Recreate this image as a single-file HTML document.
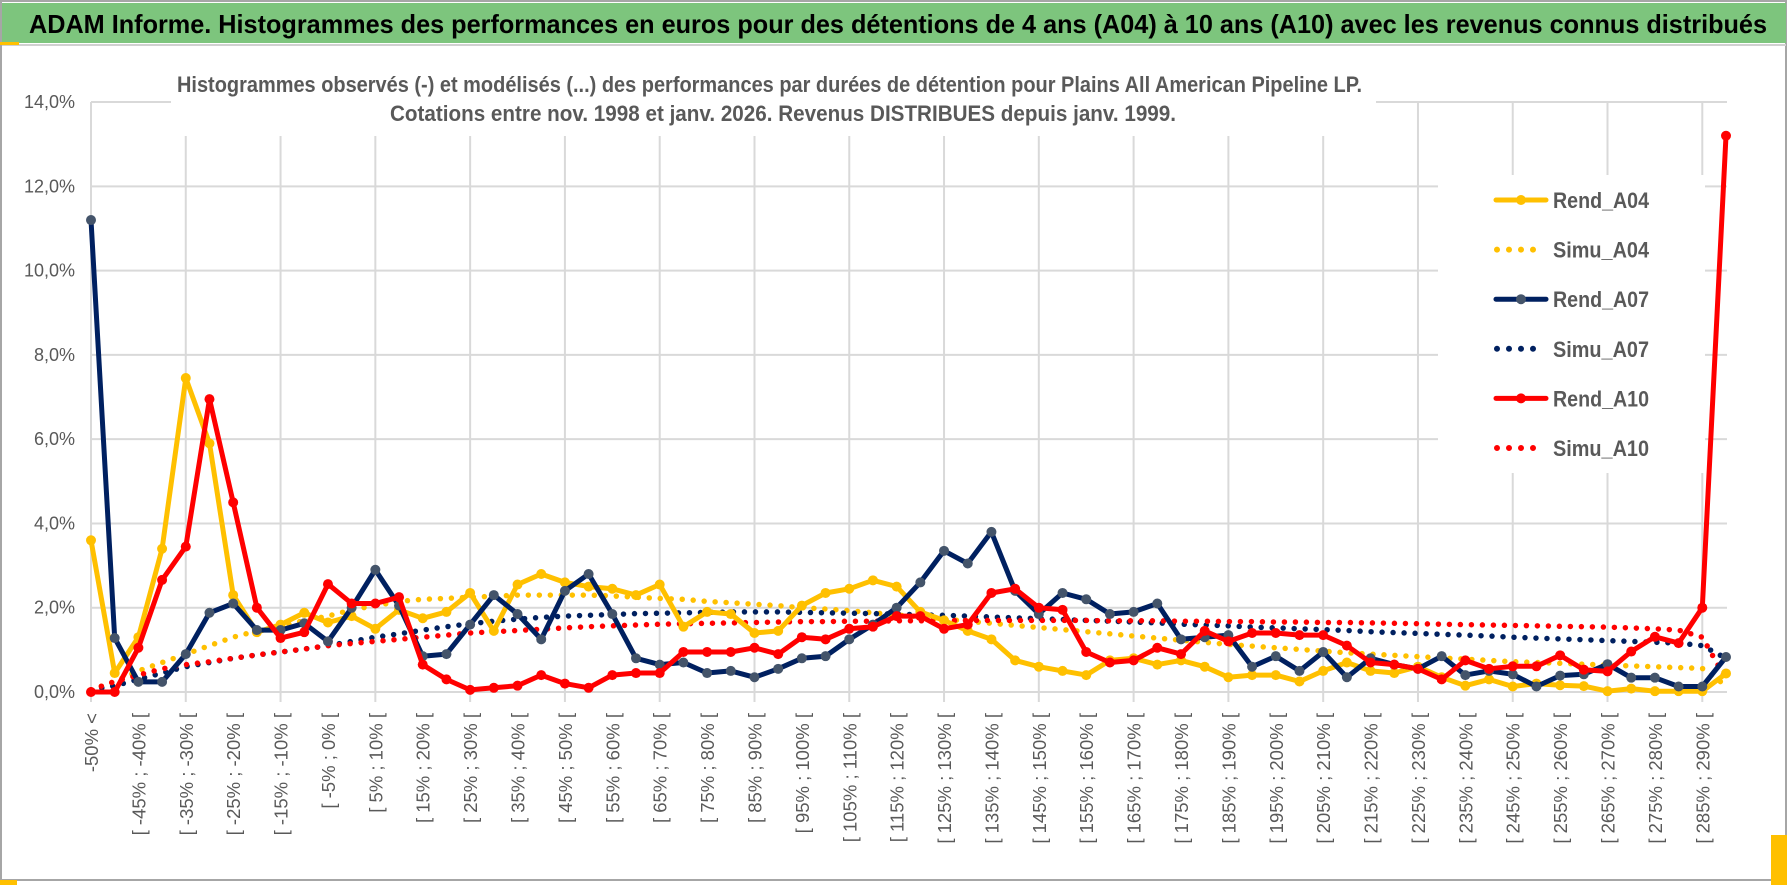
<!DOCTYPE html>
<html><head><meta charset="utf-8"><style>
html,body{margin:0;padding:0;background:#fff;width:1790px;height:888px;overflow:hidden}
svg{display:block}
</style></head><body>
<svg id="chart" width="1790" height="888" xmlns="http://www.w3.org/2000/svg" font-family="'Liberation Sans', sans-serif">
<rect x="0" y="0" width="1790" height="888" fill="#fff"/>
<rect x="1" y="1" width="1785" height="879" fill="none" stroke="#a6a6a6" stroke-width="2"/>
<rect x="2" y="3" width="1784" height="40" fill="#7dc57d"/>
<line x1="2" y1="45" x2="1786" y2="45" stroke="#d0d0d0" stroke-width="2"/>
<rect x="0" y="42" width="19" height="3" fill="#ffc000"/>
<rect x="1771" y="835" width="16" height="50" fill="#ffc000"/>
<rect x="0" y="880" width="17" height="5" fill="#ffc000"/>
<text x="29" y="33" font-size="26" font-weight="bold" fill="#000" textLength="1738" lengthAdjust="spacingAndGlyphs">ADAM Informe. Histogrammes des performances en euros pour des détentions de 4 ans (A04) à 10 ans (A10) avec les revenus connus distribués</text>
<g id="grid"></g>
<g id="axes"></g>
<rect x="171" y="60" width="1205" height="76" fill="#fff"/>
<text x="177" y="92" font-size="22" font-weight="bold" fill="#595959" textLength="1185" lengthAdjust="spacingAndGlyphs">Histogrammes observés (-) et modélisés (...) des performances par durées de détention pour Plains All American Pipeline LP.</text>
<text x="390" y="121" font-size="22" font-weight="bold" fill="#595959" textLength="786" lengthAdjust="spacingAndGlyphs">Cotations entre nov. 1998 et janv. 2026. Revenus DISTRIBUES depuis janv. 1999.</text>
<rect x="1438" y="175" width="267" height="298" fill="#fff"/>
<g id="series"></g>
<g id="legend"></g>
</svg>
<script>
const categoryCount = 70;
const yTicks = [0, 2, 4, 6, 8, 10, 12, 14];
const yTickLabels = ["0,0%", "2,0%", "4,0%", "6,0%", "8,0%", "10,0%", "12,0%", "14,0%"];
const rendA04 = [3.6,0.45,1.3,3.4,7.45,5.9,2.3,1.42,1.6,1.88,1.65,1.8,1.5,1.95,1.75,1.9,2.35,1.45,2.55,2.8,2.6,2.5,2.45,2.3,2.55,1.55,1.9,1.85,1.4,1.45,2.05,2.35,2.45,2.65,2.5,1.9,1.7,1.45,1.25,0.75,0.6,0.5,0.4,0.75,0.8,0.65,0.75,0.6,0.35,0.4,0.4,0.25,0.5,0.7,0.5,0.45,0.6,0.35,0.15,0.3,0.13,0.2,0.16,0.14,0.02,0.08,0.02,0.02,0.02,0.44];
const simuA04 = [0.05,0.25,0.5,0.7,0.9,1.1,1.3,1.45,1.55,1.7,1.8,1.95,2.05,2.15,2.2,2.22,2.25,2.27,2.3,2.3,2.3,2.3,2.28,2.25,2.22,2.2,2.15,2.12,2.08,2.05,2.0,1.97,1.93,1.88,1.83,1.78,1.73,1.68,1.63,1.58,1.53,1.48,1.43,1.38,1.33,1.28,1.23,1.18,1.13,1.09,1.05,1.01,0.97,0.93,0.9,0.87,0.84,0.81,0.78,0.75,0.72,0.7,0.68,0.66,0.64,0.62,0.6,0.58,0.56,0.15];
const rendA07 = [11.2,1.28,0.24,0.24,0.9,1.88,2.1,1.47,1.47,1.63,1.2,2.0,2.9,2.05,0.85,0.9,1.6,2.3,1.85,1.25,2.4,2.8,1.85,0.8,0.65,0.7,0.45,0.5,0.35,0.55,0.8,0.85,1.25,1.6,2.0,2.6,3.35,3.05,3.8,2.4,1.85,2.35,2.2,1.85,1.9,2.1,1.25,1.3,1.35,0.6,0.85,0.5,0.95,0.35,0.8,0.65,0.55,0.85,0.4,0.5,0.42,0.13,0.39,0.42,0.66,0.34,0.34,0.13,0.13,0.83];
const simuA07 = [0.05,0.15,0.3,0.45,0.6,0.7,0.8,0.88,0.95,1.02,1.1,1.2,1.3,1.38,1.47,1.55,1.62,1.68,1.73,1.77,1.8,1.82,1.84,1.86,1.87,1.88,1.89,1.9,1.9,1.9,1.89,1.88,1.87,1.86,1.85,1.83,1.82,1.8,1.78,1.76,1.74,1.72,1.7,1.68,1.66,1.64,1.61,1.59,1.57,1.54,1.52,1.5,1.48,1.46,1.43,1.41,1.39,1.37,1.35,1.33,1.3,1.28,1.26,1.24,1.22,1.2,1.18,1.16,1.1,0.8];
const rendA10 = [0,0,1.05,2.66,3.45,6.95,4.5,2.0,1.28,1.42,2.56,2.1,2.1,2.25,0.65,0.3,0.05,0.1,0.15,0.4,0.2,0.1,0.4,0.45,0.45,0.95,0.95,0.95,1.05,0.9,1.3,1.25,1.5,1.55,1.8,1.8,1.5,1.6,2.35,2.45,2.0,1.95,0.95,0.7,0.75,1.05,0.9,1.45,1.2,1.4,1.4,1.35,1.35,1.1,0.7,0.65,0.55,0.3,0.75,0.55,0.61,0.61,0.87,0.53,0.49,0.96,1.31,1.16,2.0,13.2];
const simuA10 = [0.05,0.25,0.4,0.55,0.65,0.72,0.8,0.88,0.95,1.02,1.1,1.15,1.2,1.25,1.3,1.35,1.4,1.43,1.46,1.49,1.52,1.55,1.57,1.59,1.61,1.62,1.63,1.64,1.65,1.66,1.67,1.67,1.68,1.68,1.69,1.69,1.69,1.7,1.7,1.7,1.7,1.7,1.7,1.69,1.69,1.69,1.68,1.68,1.67,1.67,1.66,1.66,1.65,1.65,1.64,1.63,1.62,1.61,1.6,1.59,1.58,1.57,1.56,1.55,1.54,1.52,1.5,1.47,1.3,0.3];
const seriesNames = ["Rend_A04","Simu_A04","Rend_A07","Simu_A07","Rend_A10","Simu_A10"];

const NS = "http://www.w3.org/2000/svg";
const X0 = 91, X1 = 1726, Y0 = 692, PER = 42.14;
function xPos(i){ return X0 + i*(X1-X0)/(categoryCount-1); }
function yPos(v){ return Y0 - v*PER; }
function mk(tag, attrs, parent){ const e=document.createElementNS(NS,tag); for(const k in attrs) e.setAttribute(k, attrs[k]); parent.appendChild(e); return e; }
function catLabel(i){ if(i===0) return "-50% <"; const a=-55+5*i; return "[ "+a+"% ; "+(a+5)+"% ["; }

const grid = document.getElementById("grid");
const axes = document.getElementById("axes");
yTicks.forEach((t,k)=>{
  const l = mk("line",{x1:X0,x2:1727,y1:yPos(t),y2:yPos(t),stroke:"#d9d9d9","stroke-width":2},grid);
  
  
  const tx = mk("text",{x:75,y:yPos(t)+6,"font-size":18,fill:"#595959","text-anchor":"end"},axes);
  tx.textContent = yTickLabels[k];
  
  
});
for(let i=0;i<categoryCount;i+=4){
  const l = mk("line",{x1:xPos(i),x2:xPos(i),y1:yPos(14),y2:Y0+10,stroke:"#d9d9d9","stroke-width":2},grid);
  
  
}
for(let i=0;i<categoryCount-1;i+=2){
  const x = xPos(i)+7;
  const tx = mk("text",{x:x,y:713,"font-size":18.5,fill:"#595959","text-anchor":"end",transform:"rotate(-90 "+x+" 713)"},axes);
  tx.textContent = catLabel(i);
  
  
}

const series = document.getElementById("series");
function drawSolid(data, color, marker, name){
  const g = mk("g",{},series);
  
  
  const pts = data.map((v,i)=>xPos(i).toFixed(1)+","+yPos(v).toFixed(1)).join(" ");
  mk("polyline",{points:pts,fill:"none",stroke:color,"stroke-width":5,"stroke-linejoin":"round"},g);
  data.forEach((v,i)=>{
    const c = mk("circle",{cx:xPos(i),cy:yPos(v),r:5,fill:marker},g);
    
    
  });
}
function drawDotted(data, color, name){
  const p = mk("polyline",{points:data.map((v,i)=>xPos(i).toFixed(1)+","+yPos(v).toFixed(1)).join(" "),fill:"none",stroke:color,"stroke-width":5.5,"stroke-linecap":"round","stroke-dasharray":"0 11"},series);
  
  
}
drawDotted(simuA04,"#ffc000","simu-a04-line");
drawDotted(simuA07,"#002060","simu-a07-line");
drawDotted(simuA10,"#ff0000","simu-a10-line");
drawSolid(rendA04,"#ffc000","#ffc000","rend-a04-line");
drawSolid(rendA07,"#002060","#44546a","rend-a07-line");
drawSolid(rendA10,"#ff0000","#ff0000","rend-a10-line");

const legend = document.getElementById("legend");
const legColors = ["#ffc000","#ffc000","#002060","#002060","#ff0000","#ff0000"];
const legMarkers = ["#ffc000",null,"#44546a",null,"#ff0000",null];
seriesNames.forEach((n,k)=>{
  const y = 200 + k*49.6;
  const g = mk("g",{},legend);
  
  
  if(legMarkers[k]){
    mk("line",{x1:1496,x2:1546,y1:y,y2:y,stroke:legColors[k],"stroke-width":5,"stroke-linecap":"round"},g);
    mk("circle",{cx:1521,cy:y,r:5,fill:legMarkers[k]},g);
  } else {
    mk("line",{x1:1497,x2:1545,y1:y,y2:y,stroke:legColors[k],"stroke-width":6,"stroke-linecap":"round","stroke-dasharray":"0 12"},g);
  }
  const t = mk("text",{x:1553,y:y+8,"font-size":22,"font-weight":"bold",fill:"#595959",textLength:96,lengthAdjust:"spacingAndGlyphs"},g);
  t.textContent = n;
});
</script>
</body></html>
